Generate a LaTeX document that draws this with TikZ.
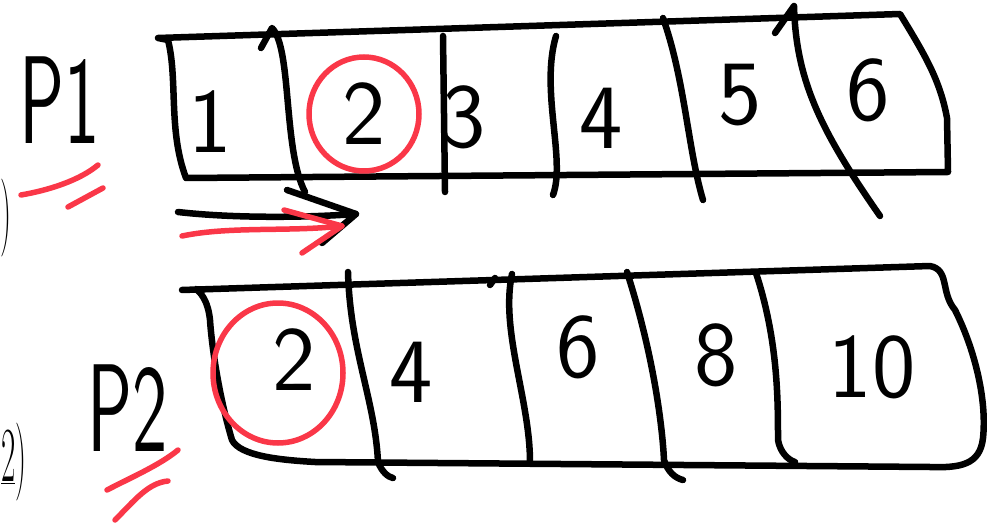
\documentclass[tikz,border=0pt]{standalone}
\usetikzlibrary{arrows.meta}
\definecolor{penred}{RGB}{250,55,72}
\begin{document}
\begin{tikzpicture}[x=1pt,y=-1pt,
  ink/.style={line width=6.5pt, line cap=round, line join=round},
  redink/.style={line width=5.5pt, line cap=round, line join=round, draw=penred},
  digit/.style={font=\fontsize{92}{92}\selectfont\sffamily, inner sep=0pt},
  plabel/.style={font=\fontsize{125}{125}\selectfont\sffamily, inner sep=0pt, xscale=0.6, transform shape},
  frag/.style={font=\fontsize{78}{78}\selectfont, inner sep=0pt, xscale=0.4, transform shape}]
\useasboundingbox (0,0) rectangle (987,526);

% ---------- labels at left ----------
\node[plabel] (p1) at (60,100) {P1};
\node[plabel] (p2) at (128,408) {P2};
\node[frag, anchor=west] (f1) at (0,218) {)};
\node[frag, anchor=west] (f2) at (1,462) {\underline{2})};
\draw[redink] (21,195) .. controls (50,190) and (80,180) .. (98,165);
\draw[redink] (68,207) -- (103,188);
\draw[redink] (107,490) .. controls (130,478) and (160,465) .. (178,450);
\draw[redink] (115,520) .. controls (135,500) and (148,483) .. (168,481);

% ---------- top array P1 ----------
\draw[ink] (158,38) -- (168,40) .. controls (178,80) and (168,130) .. (186,178)
  -- (948,172) -- (947,118) .. controls (940,80) and (925,55) .. (900,14) -- cycle;
\draw[ink] (261,48) -- (272,28) .. controls (292,48) and (283,150) .. (305,192);
\draw[ink] (443,36) -- (445,192);
\draw[ink] (556,36) .. controls (540,90) and (566,160) .. (553,195);
\draw[ink] (663,18) .. controls (685,80) and (688,150) .. (703,200);
\draw[ink] (775,33) -- (794,6) .. controls (796,80) and (820,130) .. (880,216);

\node[digit] (t1) at (210,122) {1};
\node[digit] (t2) at (364,114) {2};
\node[digit] (t3) at (464,117) {3};
\node[digit] (t4) at (601,118) {4};
\node[digit] (t5) at (740,95) {5};
\node[digit] (t6) at (868,90) {6};
\draw[redink] (t2.center) ellipse [x radius=55, y radius=57];

% arrows under the first cell
\coordinate (a0) at (178,212);
\coordinate (a1) at (356,214);
\coordinate (r0) at (182,236);
\coordinate (r1) at (342,226);
\draw[ink] (a0) .. controls (230,218) and (300,218) .. (a1);
\draw[ink] (287,190) -- (a1) -- (322,243);
\draw[redink] (r0) .. controls (230,226) and (290,232) .. (r1);
\draw[redink] (284,210) -- (r1) -- (302,253);

% ---------- bottom array P2 ----------
\draw[ink] (182,290) -- (930,266) .. controls (950,270) and (940,292) .. (955,310)
  .. controls (975,350) and (987,400) .. (983,438)
  .. controls (980,465) and (960,468) .. (930,467)
  -- (315,462) .. controls (280,460) and (240,456) .. (232,440)
  .. controls (220,400) and (212,350) .. (210,320)
  .. controls (208,300) and (200,292) .. (196,289);
\draw[ink] (348,272) .. controls (350,350) and (375,400) .. (378,462) .. controls (382,472) and (388,477) .. (393,478);
\draw[ink] (490,285) -- (495,278);
\draw[ink] (512,274) .. controls (500,330) and (530,400) .. (530,462);
\draw[ink] (627,272) .. controls (652,350) and (662,420) .. (664,460) .. controls (668,472) and (675,478) .. (683,480);
\draw[ink] (756,273) .. controls (778,340) and (778,400) .. (778,440) .. controls (780,452) and (788,460) .. (795,462);

\node[digit] (b1) at (294,360) {2};
\node[digit] (b2) at (411,372) {4};
\node[digit] (b3) at (578,347) {6};
\node[digit] (b4) at (716,355) {8};
\node[digit] (b5) at (872,367) {10};
\draw[redink] (b1.center) ++(-16,13) ellipse [x radius=65, y radius=70];
\end{tikzpicture}
\end{document}
